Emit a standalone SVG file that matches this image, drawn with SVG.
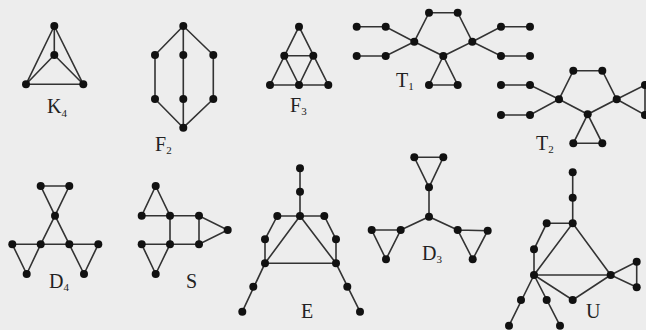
<svg xmlns="http://www.w3.org/2000/svg" width="646" height="330" viewBox="0 0 646 330">
<style>
.e{stroke:#333;stroke-width:1.6;fill:none}
.n circle{fill:#111}
.lb{font-family:"Liberation Serif","Times New Roman",serif;font-size:20px;fill:#222}
.sb{font-size:11px}
</style>
<rect width="646" height="330" fill="#ededed"/>
<g id="connectors" class="e">
<!-- K4 -->
<path d="M54.3,26L54.3,55M54.3,26L26,84.3M54.3,26L83.3,84.3M54.3,55L26,84.3M54.3,55L83.3,84.3M26,84.3L83.3,84.3"/>
<!-- F2 -->
<path d="M183.3,26L155,55L155,99L183.3,127.7M183.3,26L183.3,127.7M183.3,26L213.3,55L213.3,99L183.3,127.7"/>
<!-- F3 -->
<path d="M299,26.7L270,85L328.3,85L299,26.7M284.3,55.7L313.3,55.7M284.3,55.7L299,85L313.3,55.7"/>
<!-- T1 -->
<path d="M356.7,26.7L385.7,26.7L414.3,41.7M356.7,56L385.7,56L414.3,41.7M414.3,41.7L429,12.7L457.7,12.7L472.3,41.7L443.3,56L414.3,41.7M443.3,56L429,85L457.7,85Z M472.3,41.7L501,26.7L530,26.7M472.3,41.7L501,56L530,56"/>
<!-- T2 -->
<path d="M501,85L530,85L559,99.3M501,115L530,115L559,99.3M559,99.3L573.3,70.7L602.3,70.7L616.7,99.3L587.7,114.3L559,99.3M587.7,114.3L573.3,143.3L602.3,143.3Z M616.7,99.3L645,85L645,115Z"/>
<!-- D4 -->
<path d="M40.7,186L69.3,186L55,215.7Z M55,215.7L40.7,244.3M55,215.7L69.3,244.3M12.3,244.3L98.3,244.3M12.3,244.3L26.7,274L40.7,244.3M69.3,244.3L84,274L98.3,244.3"/>
<!-- S -->
<path d="M155.7,186L141.7,215.7L170,215.7Z M170,215.7L199,215.7L227.7,230L199,244.3L199,215.7M170,215.7L170,244.3M141.7,244.3L199,244.3M141.7,244.3L155.7,274L170,244.3"/>
<!-- E -->
<path d="M300,168.3L300,216M277.3,216L324.3,216M277.3,216L265,239.3L265,263.3M324.3,216L336,239.3L336,263.3M300,216L265,263.3L336,263.3L300,216M265,263.3L242.3,311.7M336,263.3L360,311.7"/>
<!-- D3 -->
<path d="M414.3,157.3L443.3,157.3L429,187.3Z M429,187.3L429,216.7M400.7,230L429,216.7L457.7,230M371.7,230L400.7,230L386,259.3Z M457.7,230L487.7,230.7L472.7,259.3Z"/>
<!-- U -->
<path d="M572.7,172.3L572.7,223.3L546.7,223.3L534,249.3L534,275L572.7,223.3L610.7,275L534,275M534,275L572.7,300L610.7,275M610.7,275L636.7,261.7L636.7,287.3Z M534,275L509,325.7M534,275L560,325.7"/>
</g>
<g id="K4" class="n">
<circle cx="54.3" cy="26" r="4"/><circle cx="54.3" cy="55" r="4"/><circle cx="26" cy="84.3" r="4"/><circle cx="83.3" cy="84.3" r="4"/>
<text class="lb" x="47" y="113">K<tspan class="sb" dy="4">4</tspan></text>
</g>
<g id="F2" class="n">
<circle cx="183.3" cy="26" r="4"/><circle cx="155" cy="55" r="4"/><circle cx="155" cy="99" r="4"/><circle cx="183.3" cy="55" r="4"/><circle cx="183.3" cy="99" r="4"/><circle cx="213.3" cy="55" r="4"/><circle cx="213.3" cy="99" r="4"/><circle cx="183.3" cy="127.7" r="4"/>
<text class="lb" x="155" y="151">F<tspan class="sb" dy="3">2</tspan></text>
</g>
<g id="F3" class="n">
<circle cx="299" cy="26.7" r="4"/><circle cx="284.3" cy="55.7" r="4"/><circle cx="313.3" cy="55.7" r="4"/><circle cx="270" cy="85" r="4"/><circle cx="299" cy="85" r="4"/><circle cx="328.3" cy="85" r="4"/>
<text class="lb" x="290" y="112">F<tspan class="sb" dy="3">3</tspan></text>
</g>
<g id="T1" class="n">
<circle cx="356.7" cy="26.7" r="4"/><circle cx="385.7" cy="26.7" r="4"/><circle cx="356.7" cy="56" r="4"/><circle cx="385.7" cy="56" r="4"/><circle cx="414.3" cy="41.7" r="4"/><circle cx="429" cy="12.7" r="4"/><circle cx="457.7" cy="12.7" r="4"/><circle cx="472.3" cy="41.7" r="4"/><circle cx="443.3" cy="56" r="4"/><circle cx="429" cy="85" r="4"/><circle cx="457.7" cy="85" r="4"/><circle cx="501" cy="26.7" r="4"/><circle cx="530" cy="26.7" r="4"/><circle cx="501" cy="56" r="4"/><circle cx="530" cy="56" r="4"/>
<text class="lb" x="396" y="87">T<tspan class="sb" dy="3">1</tspan></text>
</g>
<g id="T2" class="n">
<circle cx="501" cy="85" r="4"/><circle cx="530" cy="85" r="4"/><circle cx="501" cy="115" r="4"/><circle cx="530" cy="115" r="4"/><circle cx="559" cy="99.3" r="4"/><circle cx="573.3" cy="70.7" r="4"/><circle cx="602.3" cy="70.7" r="4"/><circle cx="616.7" cy="99.3" r="4"/><circle cx="587.7" cy="114.3" r="4"/><circle cx="573.3" cy="143.3" r="4"/><circle cx="602.3" cy="143.3" r="4"/><circle cx="645" cy="85" r="4"/><circle cx="645" cy="115" r="4"/>
<text class="lb" x="536" y="150">T<tspan class="sb" dy="3">2</tspan></text>
</g>
<g id="D4" class="n">
<circle cx="40.7" cy="186" r="4"/><circle cx="69.3" cy="186" r="4"/><circle cx="55" cy="215.7" r="4"/><circle cx="12.3" cy="244.3" r="4"/><circle cx="40.7" cy="244.3" r="4"/><circle cx="69.3" cy="244.3" r="4"/><circle cx="98.3" cy="244.3" r="4"/><circle cx="26.7" cy="274" r="4"/><circle cx="84" cy="274" r="4"/>
<text class="lb" x="49" y="288">D<tspan class="sb" dy="3">4</tspan></text>
</g>
<g id="S" class="n">
<circle cx="155.7" cy="186" r="4"/><circle cx="141.7" cy="215.7" r="4"/><circle cx="170" cy="215.7" r="4"/><circle cx="199" cy="215.7" r="4"/><circle cx="227.7" cy="230" r="4"/><circle cx="141.7" cy="244.3" r="4"/><circle cx="170" cy="244.3" r="4"/><circle cx="199" cy="244.3" r="4"/><circle cx="155.7" cy="274" r="4"/>
<text class="lb" x="186" y="288">S</text>
</g>
<g id="E" class="n">
<circle cx="300" cy="168.3" r="4"/><circle cx="300" cy="191.7" r="4"/><circle cx="300" cy="216" r="4"/><circle cx="277.3" cy="216" r="4"/><circle cx="324.3" cy="216" r="4"/><circle cx="265" cy="239.3" r="4"/><circle cx="336" cy="239.3" r="4"/><circle cx="265" cy="263.3" r="4"/><circle cx="336" cy="263.3" r="4"/><circle cx="253.3" cy="286.7" r="4"/><circle cx="347.3" cy="286.7" r="4"/><circle cx="242.3" cy="311.7" r="4"/><circle cx="360" cy="311.7" r="4"/>
<text class="lb" x="301" y="318">E</text>
</g>
<g id="D3" class="n">
<circle cx="414.3" cy="157.3" r="4"/><circle cx="443.3" cy="157.3" r="4"/><circle cx="429" cy="187.3" r="4"/><circle cx="429" cy="216.7" r="4"/><circle cx="371.7" cy="230" r="4"/><circle cx="400.7" cy="230" r="4"/><circle cx="386" cy="259.3" r="4"/><circle cx="457.7" cy="230" r="4"/><circle cx="487.7" cy="230.7" r="4"/><circle cx="472.7" cy="259.3" r="4"/>
<text class="lb" x="422" y="260">D<tspan class="sb" dy="3">3</tspan></text>
</g>
<g id="U" class="n">
<circle cx="572.7" cy="172.3" r="4"/><circle cx="572.7" cy="197.7" r="4"/><circle cx="572.7" cy="223.3" r="4"/><circle cx="546.7" cy="223.3" r="4"/><circle cx="534" cy="249.3" r="4"/><circle cx="534" cy="275" r="4"/><circle cx="610.7" cy="275" r="4"/><circle cx="636.7" cy="261.7" r="4"/><circle cx="636.7" cy="287.3" r="4"/><circle cx="572.7" cy="300" r="4"/><circle cx="521" cy="300" r="4"/><circle cx="546.7" cy="300" r="4"/><circle cx="509" cy="325.7" r="4"/><circle cx="560" cy="325.7" r="4"/>
<text class="lb" x="586" y="318">U</text>
</g>
</svg>
